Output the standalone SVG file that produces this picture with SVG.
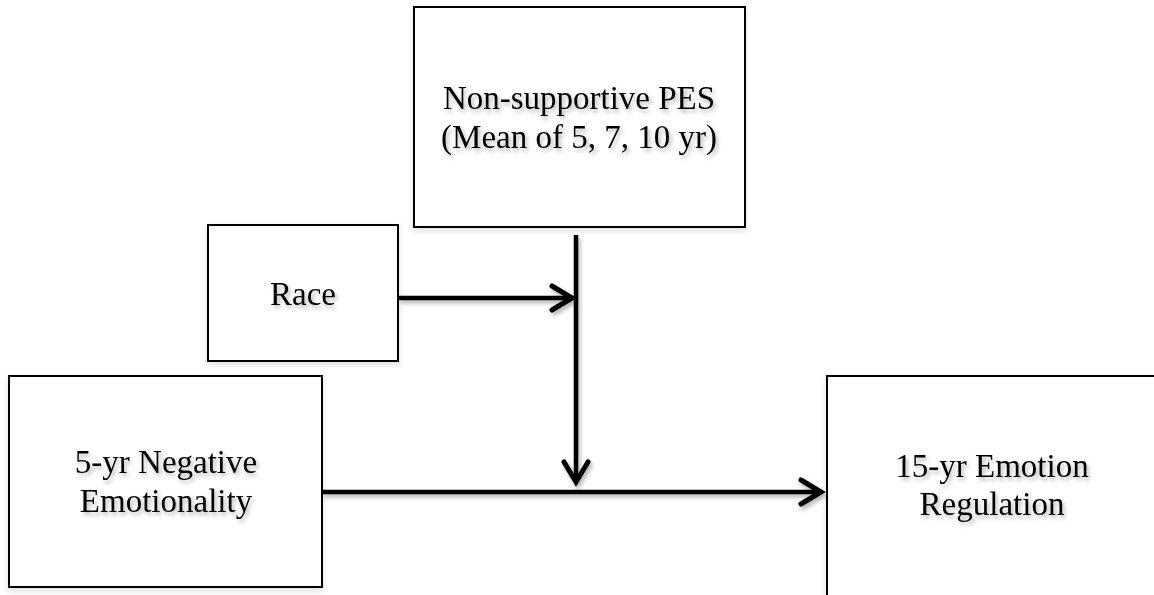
<svg xmlns="http://www.w3.org/2000/svg" width="1154" height="595" viewBox="0 0 1154 595">
  <defs>
    <filter id="sh" x="-10%" y="-10%" width="120%" height="130%">
      <feDropShadow dx="2" dy="3" stdDeviation="2" flood-color="#000" flood-opacity="0.3"/>
    </filter>
    <filter id="bsh" x="-5%" y="-5%" width="110%" height="110%">
      <feDropShadow dx="0" dy="3" stdDeviation="3" flood-color="#000" flood-opacity="0.12"/>
    </filter>
    <marker id="arr" markerUnits="userSpaceOnUse" viewBox="-24 -16 28 32" refX="0" refY="0" markerWidth="28" markerHeight="32" orient="auto" overflow="visible">
      <path d="M-20,-12 L0,0 L-20,12" fill="none" stroke="#000" stroke-width="5" stroke-linecap="round" stroke-linejoin="miter"/>
    </marker>
  </defs>
  <style>
    .box { fill: #fff; stroke: #000; stroke-width: 2; }
    .lbl { font-family: "Liberation Serif", "Times New Roman", serif; font-size: 33px; fill: #000; text-anchor: middle; }
    .conn { fill: none; stroke: #000; stroke-width: 4.5; }
  </style>
  <rect width="1154" height="595" fill="#fff"/>

  <g id="node-pes">
    <rect class="box" x="414" y="7" width="331" height="220" filter="url(#bsh)"/>
    <g filter="url(#sh)">
      <text class="lbl" x="579" y="109">Non-supportive PES</text>
      <text class="lbl" x="579" y="148">(Mean of 5, 7, 10 yr)</text>
    </g>
  </g>

  <g id="node-race">
    <rect class="box" x="208" y="225" width="190" height="136" filter="url(#bsh)"/>
    <g filter="url(#sh)">
      <text class="lbl" x="303" y="305">Race</text>
    </g>
  </g>

  <g id="node-ne">
    <rect class="box" x="9" y="376" width="313" height="211" filter="url(#bsh)"/>
    <g filter="url(#sh)">
      <text class="lbl" x="166" y="473">5-yr Negative</text>
      <text class="lbl" x="166" y="512">Emotionality</text>
    </g>
  </g>

  <g id="node-er">
    <rect class="box" x="827" y="376" width="340" height="240" filter="url(#bsh)"/>
    <g filter="url(#sh)">
      <text class="lbl" x="992" y="477">15-yr Emotion</text>
      <text class="lbl" x="992" y="515">Regulation</text>
    </g>
  </g>

  <g id="connectors" filter="url(#sh)">
    <line class="conn" x1="398" y1="298" x2="572" y2="298" marker-end="url(#arr)"/>
    <line class="conn" x1="576" y1="235" x2="576" y2="482" marker-end="url(#arr)"/>
    <line class="conn" x1="322" y1="492" x2="821" y2="492" marker-end="url(#arr)"/>
  </g>
</svg>
